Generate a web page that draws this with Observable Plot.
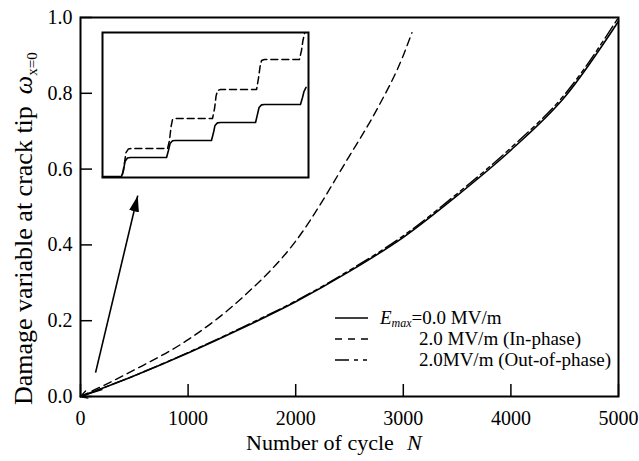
<!DOCTYPE html>
<html><head><meta charset="utf-8">
<script src="https://cdn.jsdelivr.net/npm/d3@7"></script>
<script src="https://cdn.jsdelivr.net/npm/@observablehq/plot@0.6"></script>
<style>
body{margin:0;background:#fff;}
#wrap{position:relative;width:639px;height:461px;}
#wrap > svg{position:absolute;left:0;top:0;}
#wrap > svg.inset{left:102px;top:32px;}
#wrap svg text{font-family:'Liberation Serif','Times New Roman',serif;}
</style></head><body><div id="wrap"></div>
<script>
// ---- data ----
const xTicks = [0, 1000, 2000, 3000, 4000, 5000];
const yTicks = [0, 0.2, 0.4, 0.6, 0.8, 1.0];
const cycles = [0, 500, 1000, 1500, 2000, 2500, 3000, 3500, 4000, 4500, 5000];
const damageE0 = [0, 0.055, 0.115, 0.18, 0.25, 0.33, 0.42, 0.53, 0.65, 0.79, 0.99];
const damageOut = [0, 0.055, 0.116, 0.182, 0.252, 0.333, 0.424, 0.535, 0.656, 0.797, 1.0];
const cyclesIn = [0, 500, 1000, 1500, 2000, 2500, 2750, 3000, 3080];
const damageIn = [0, 0.07, 0.15, 0.26, 0.41, 0.635, 0.755, 0.9, 0.96];
// annotation arrows (data coords)
const arrowX1 = [140], arrowY1 = [0.063], arrowX2 = [532], arrowY2 = [0.53];
const originArrowX1 = [200], originArrowY1 = [0.018], originArrowX2 = [0], originArrowY2 = [0];
// inset (magnified early cycles, normalized units)
const insetSolidX = [0, 0.092, 0.102, 0.109, 0.121, 0.136, 0.311, 0.320, 0.328, 0.340, 0.354, 0.529, 0.539, 0.546, 0.558, 0.573, 0.743, 0.752, 0.760, 0.772, 0.786, 0.961, 0.971, 0.978, 0.988];
const insetSolidY = [0.007, 0.007, 0.048, 0.110, 0.134, 0.138, 0.138, 0.186, 0.234, 0.253, 0.255, 0.255, 0.310, 0.359, 0.377, 0.379, 0.379, 0.434, 0.483, 0.501, 0.503, 0.503, 0.552, 0.593, 0.621];
const insetDashX = [0.097, 0.107, 0.114, 0.126, 0.141, 0.316, 0.325, 0.333, 0.340, 0.354, 0.534, 0.544, 0.551, 0.558, 0.573, 0.748, 0.757, 0.765, 0.772, 0.786, 0.956, 0.966, 0.973, 0.981];
const insetDashY = [0.021, 0.103, 0.172, 0.197, 0.2, 0.2, 0.255, 0.352, 0.4, 0.407, 0.407, 0.476, 0.559, 0.6, 0.607, 0.607, 0.683, 0.766, 0.807, 0.814, 0.814, 0.876, 0.945, 0.993];
const legendLabels = ["=0.0 MV/m", "2.0 MV/m (In-phase)", "2.0MV/m (Out-of-phase)"];

const font = "'Liberation Serif', 'Times New Roman', serif";
const zip = (xs, ys) => xs.map((x, i) => ({x, y: ys[i]}));

const main = Plot.plot({
  width: 639, height: 461,
  marginLeft: 80, marginRight: 21, marginTop: 17, marginBottom: 65,
  style: {fontFamily: font, fontSize: "20px", color: "black", background: "white", overflow: "visible"},
  x: {domain: [0, 5000]},
  y: {domain: [0, 1]},
  marks: [
    Plot.line(zip(cycles, damageE0), {x: "x", y: "y", stroke: "black", strokeWidth: 1.6, curve: "monotone-x"}),
    Plot.line(zip(cycles, damageOut), {x: "x", y: "y", stroke: "black", strokeWidth: 1.4, strokeDasharray: "14,4,4,4,4,4", curve: "monotone-x"}),
    Plot.line(zip(cyclesIn, damageIn), {x: "x", y: "y", stroke: "black", strokeWidth: 1.4, strokeDasharray: "8,5", curve: "monotone-x"}),
    Plot.link(arrowX1.map((d, i) => i), {x1: i => arrowX1[i], y1: i => arrowY1[i], x2: i => arrowX2[i], y2: i => arrowY2[i], stroke: "black", strokeWidth: 1.6}),
    Plot.arrow(originArrowX1.map((d, i) => i), {x1: i => originArrowX1[i], y1: i => originArrowY1[i], x2: i => originArrowX2[i], y2: i => originArrowY2[i], stroke: "black", strokeWidth: 1.3, headLength: 9}),
    Plot.axisX(xTicks, {tickSize: -12, tickFormat: () => "", strokeWidth: 1.5, label: null}),
    Plot.axisX(xTicks, {tickSize: 0, tickPadding: 14, fontSize: 20, fontFamily: font, label: null, tickFormat: d3.format("d")}),
    Plot.axisY(yTicks, {tickSize: -12, tickFormat: () => "", strokeWidth: 1.5, label: null}),
    Plot.axisY(yTicks, {tickSize: 0, tickPadding: 8, fontSize: 20, fontFamily: font, label: null, tickFormat: d3.format(".1f")}),
    Plot.frame({stroke: "black", strokeWidth: 2})
  ]
});

const svg = d3.select(main).style("font-family", font);
const defs = svg.append("defs");
defs.append("marker").attr("id", "tri").attr("viewBox", "0 -6 16 12").attr("refX", 16).attr("refY", 0)
  .attr("markerWidth", 16).attr("markerHeight", 12).attr("markerUnits", "userSpaceOnUse").attr("orient", "auto")
  .append("path").attr("d", "M0,-5L16,0L0,5Z").attr("fill", "black");
svg.selectAll('g[aria-label="link"] path').attr("marker-end", "url(#tri)");

// y label
const yl = svg.append("text").attr("transform", "translate(32,405) rotate(-90)")
  .attr("text-anchor", "start").attr("font-size", 26).attr("font-family", font).attr("fill", "black");
yl.append("tspan").text("Damage variable at crack tip");
yl.append("tspan").attr("dx", 12).attr("font-style", "italic").text("ω");
yl.append("tspan").attr("font-size", 15).attr("dy", 5).text("x=0");

// x label
const xl = svg.append("text").attr("x", 246).attr("y", 450).attr("text-anchor", "start")
  .attr("font-size", 22).attr("font-family", font).attr("fill", "black");
xl.append("tspan").text("Number of cycle");
xl.append("tspan").attr("x", 407).attr("font-style", "italic").text("N");

// legend
const legY = [318, 339, 360];
const legDash = [null, "7,6", "14,5,4,5,4"];
const legTextX = [380, 419, 419];
const lg = svg.append("g").attr("font-family", font).attr("font-size", 19).attr("fill", "black").attr("text-anchor", "start");
legY.forEach((y, i) => {
  lg.append("line").attr("x1", 335).attr("x2", 368).attr("y1", y).attr("y2", y)
    .attr("stroke", "black").attr("stroke-width", 1.6).attr("stroke-dasharray", legDash[i]);
  const t = lg.append("text").attr("x", legTextX[i]).attr("y", y + 6);
  if (i === 0) {
    t.append("tspan").attr("font-style", "italic").text("E");
    t.append("tspan").attr("font-style", "italic").attr("font-size", 12).attr("dy", 3).text("max");
    t.append("tspan").attr("dy", -3).text(legendLabels[0]);
  } else {
    t.text(legendLabels[i]);
  }
});

const inset = Plot.plot({
  width: 206, height: 145, margin: 0,
  style: {overflow: "visible", background: "white"},
  x: {domain: [0, 1], axis: null},
  y: {domain: [0, 1], axis: null},
  marks: [
    Plot.line(zip(insetSolidX, insetSolidY), {x: "x", y: "y", stroke: "black", strokeWidth: 1.6}),
    Plot.line(zip(insetDashX, insetDashY), {x: "x", y: "y", stroke: "black", strokeWidth: 1.5, strokeDasharray: "7,4"}),
    Plot.frame({stroke: "black", strokeWidth: 2})
  ]
});
inset.classList.add("inset");

const wrap = document.getElementById("wrap");
wrap.appendChild(main);
wrap.appendChild(inset);
</script></body></html>
